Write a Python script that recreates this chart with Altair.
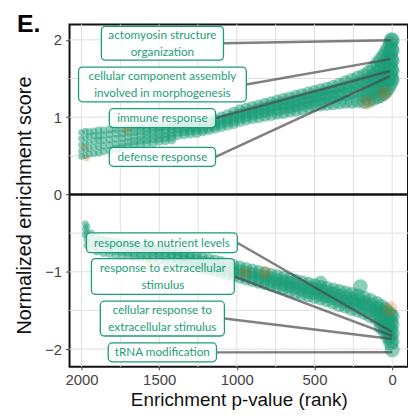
import altair as alt
import pandas as pd

# ---------------- data ----------------
# positive NES panel: rank -> NES values of the points stacked at that rank
top_band = {
    2000: [0.80, 0.72, 0.64, 0.56, 0.49],
    1975: [0.82, 0.74, 0.66, 0.58, 0.50],
    1950: [0.81, 0.75, 0.67, 0.59, 0.52],
    1920: [0.82, 0.76, 0.69, 0.61, 0.53],
    1890: [0.83, 0.76, 0.70, 0.62, 0.54],
    1860: [0.83, 0.77, 0.70, 0.63, 0.56],
    1820: [0.84, 0.78, 0.71, 0.64, 0.57],
    1780: [0.85, 0.79, 0.72, 0.65, 0.59],
    1740: [0.85, 0.79, 0.73, 0.66, 0.61],
    1700: [0.86, 0.80, 0.74, 0.68, 0.62],
    1660: [0.86, 0.81, 0.75, 0.69, 0.64],
    1620: [0.87, 0.82, 0.76, 0.70, 0.65],
    1580: [0.87, 0.82, 0.77, 0.71, 0.66],
    1540: [0.88, 0.83, 0.78, 0.72, 0.67],
    1500: [0.88, 0.84, 0.79, 0.73, 0.69],
    1460: [0.89, 0.84, 0.79, 0.74, 0.70],
    1420: [0.89, 0.85, 0.80, 0.75, 0.71],
    1380: [0.90, 0.86, 0.81, 0.77],
    1340: [0.90, 0.86, 0.82, 0.78],
    1300: [0.91, 0.87, 0.83, 0.79],
    1260: [0.92, 0.88, 0.84, 0.80],
    1220: [0.93, 0.89, 0.85, 0.82],
    1180: [0.95, 0.91, 0.87, 0.84],
    1140: [0.97, 0.93, 0.89, 0.86],
    1100: [1.00, 0.96, 0.92, 0.88],
    1060: [1.03, 0.98, 0.94, 0.90],
    1020: [1.06, 1.01, 0.96, 0.92],
    980: [1.09, 1.04, 0.99, 0.95],
    940: [1.11, 1.06, 1.01, 0.97],
    900: [1.13, 1.08, 1.03, 0.99],
    860: [1.15, 1.10, 1.05, 1.00],
    820: [1.17, 1.12, 1.07, 1.02],
    780: [1.19, 1.14, 1.09, 1.03],
    740: [1.21, 1.16, 1.10, 1.05],
    700: [1.23, 1.18, 1.12, 1.06],
    660: [1.25, 1.19, 1.13, 1.08],
    620: [1.27, 1.21, 1.15, 1.09],
    580: [1.29, 1.23, 1.17, 1.11],
    540: [1.31, 1.25, 1.19, 1.13],
    500: [1.33, 1.27, 1.21, 1.15],
    460: [1.35, 1.29, 1.23, 1.16],
    420: [1.37, 1.31, 1.25, 1.17],
    380: [1.39, 1.33, 1.26, 1.18],
    340: [1.42, 1.35, 1.28, 1.19],
    300: [1.45, 1.38, 1.30, 1.20],
    260: [1.48, 1.40, 1.32, 1.20],
    220: [1.51, 1.43, 1.34, 1.21],
    180: [1.54, 1.46, 1.37, 1.28, 1.20],
    150: [1.58, 1.49, 1.40, 1.31, 1.22],
    120: [1.63, 1.53, 1.43, 1.33, 1.24],
    95: [1.69, 1.58, 1.47, 1.36, 1.26],
    75: [1.74, 1.62, 1.50, 1.39, 1.28],
    55: [1.79, 1.67, 1.54, 1.42, 1.31],
    40: [1.84, 1.71, 1.58, 1.46, 1.34],
    25: [1.89, 1.76, 1.63, 1.50, 1.38],
    12: [1.95, 1.82, 1.69, 1.56, 1.43],
    5: [2.00, 1.88, 1.75, 1.62, 1.50],
    0: [1.99, 1.86, 1.73, 1.60, 1.48],
}

# negative NES panel
bottom_band = {
    1975: [-0.38, -0.45, -0.52],
    1965: [-0.42, -0.50, -0.58, -0.66],
    1940: [-0.50, -0.57, -0.64, -0.70],
    1900: [-0.55, -0.62, -0.68, -0.74],
    1860: [-0.58, -0.64, -0.70, -0.76],
    1820: [-0.60, -0.66, -0.72, -0.77],
    1780: [-0.61, -0.67, -0.73, -0.78],
    1740: [-0.63, -0.68, -0.74, -0.79],
    1700: [-0.64, -0.69, -0.75, -0.80],
    1660: [-0.65, -0.70, -0.76, -0.81],
    1620: [-0.66, -0.71, -0.77, -0.82],
    1580: [-0.67, -0.72, -0.78, -0.83],
    1540: [-0.68, -0.73, -0.78, -0.84],
    1500: [-0.69, -0.74, -0.79, -0.85],
    1460: [-0.70, -0.75, -0.80, -0.86],
    1420: [-0.72, -0.77, -0.82, -0.87],
    1380: [-0.73, -0.78, -0.83, -0.88],
    1340: [-0.75, -0.80, -0.85, -0.90],
    1300: [-0.77, -0.82, -0.87, -0.92],
    1260: [-0.79, -0.84, -0.89, -0.94],
    1220: [-0.81, -0.86, -0.91, -0.96],
    1180: [-0.83, -0.88, -0.93, -0.98],
    1140: [-0.85, -0.90, -0.95, -1.00],
    1100: [-0.87, -0.92, -0.97, -1.02],
    1060: [-0.89, -0.94, -0.99, -1.04],
    1020: [-0.91, -0.96, -1.01, -1.06],
    980: [-0.93, -0.98, -1.03, -1.08],
    940: [-0.95, -1.00, -1.05, -1.10],
    900: [-0.97, -1.02, -1.07, -1.12],
    860: [-0.99, -1.04, -1.09, -1.14],
    820: [-1.01, -1.06, -1.11, -1.16],
    780: [-1.03, -1.08, -1.13, -1.18],
    740: [-1.05, -1.10, -1.15, -1.20],
    700: [-1.07, -1.12, -1.17, -1.22],
    660: [-1.09, -1.14, -1.19, -1.25],
    620: [-1.11, -1.16, -1.21, -1.27],
    580: [-1.13, -1.18, -1.24, -1.29],
    540: [-1.15, -1.20, -1.26, -1.31],
    500: [-1.17, -1.22, -1.28, -1.33],
    460: [-1.19, -1.24, -1.30, -1.35, -1.14],
    420: [-1.21, -1.26, -1.32, -1.37],
    380: [-1.23, -1.28, -1.34, -1.40],
    340: [-1.25, -1.31, -1.37, -1.43],
    300: [-1.27, -1.33, -1.39, -1.45],
    260: [-1.29, -1.35, -1.41, -1.48],
    220: [-1.31, -1.37, -1.43, -1.50],
    204: [-1.19],
    180: [-1.34, -1.40, -1.46, -1.53],
    140: [-1.37, -1.43, -1.50, -1.57],
    100: [-1.41, -1.47, -1.54, -1.61],
    70: [-1.45, -1.51, -1.58, -1.65, -1.72],
    45: [-1.49, -1.56, -1.63, -1.70, -1.77],
    25: [-1.53, -1.61, -1.69, -1.77, -1.85],
    10: [-1.56, -1.65, -1.74, -1.83, -1.92],
    0: [-1.58, -1.68, -1.79, -1.90, -2.01],
}

# the few orange (second group) points
orange_rank = [1981, 1968, 1712, 160, 51, 1566, 946, 818, 13]
orange_nes = [0.61, 0.47, 0.83, 1.19, 1.31, -0.88, -1.01, -1.01, -1.48]

# labelled gene sets (one-line and two-line labels)
label_text = [
    "actomyosin structure\norganization",
    "cellular component assembly\ninvolved in morphogenesis",
    "immune response",
    "defense response",
    "response to nutrient levels",
    "response to extracellular\nstimulus",
    "cellular response to\nextracellular stimulus",
    "tRNA modification",
]
label_rank_left = [1872, 2019, 1821, 1821, 1968, 1936, 1879, 1828]
label_rank_right = [1086, 939, 1137, 1137, 997, 1016, 1080, 1131]
label_nes_top = [2.174, 1.648, 1.109, 0.608, -0.496, -0.830, -1.381, -1.921]
label_nes_bottom = [1.738, 1.199, 0.865, 0.364, -0.753, -1.292, -1.831, -2.165]
point_rank = [6, 13, 13, 13, 0, 0, 0, 0]
point_nes = [1.995, 1.751, 1.597, 1.532, -1.78, -1.83, -1.87, -2.04]

x_ticks = [2000, 1500, 1000, 500, 0]
x_grid = [2000, 1750, 1500, 1250, 1000, 750, 500, 250, 0]
y_ticks = [2, 1, 0, -1, -2]
y_grid = [2, 1.5, 1, 0.5, -0.5, -1, -1.5, -2]

# ---------------- tables ----------------
rows = []
for r, vals in top_band.items():
    for v in vals:
        rows.append({"rank": r, "nes": v})
for r, vals in bottom_band.items():
    for v in vals:
        rows.append({"rank": r, "nes": v})
pts = pd.DataFrame(rows)
orange = pd.DataFrame({"rank": orange_rank, "nes": orange_nes})
labels = pd.DataFrame({
    "text": label_text,
    "left": label_rank_left,
    "right": label_rank_right,
    "top": label_nes_top,
    "bottom": label_nes_bottom,
    "prank": point_rank,
    "pnes": point_nes,
})
labels["mid_rank"] = (labels["left"] + labels["right"]) / 2
labels["mid_nes"] = (labels["top"] + labels["bottom"]) / 2
labels["two"] = labels["text"].str.contains("\n")

GREEN = "#1b9e77"
ORANGE = "#d95f02"
FONT = "Liberation Sans"

xscale = alt.Scale(domain=[-102, 2077], reverse=True, nice=False, zero=False)
yscale = alt.Scale(domain=[-2.23, 2.2], nice=False, zero=False)
sizescale = alt.Scale(domain=[0, 2000], range=[230, 45])

X = lambda f: alt.X(f, type="quantitative", scale=xscale)
Y = lambda f: alt.Y(f, type="quantitative", scale=yscale)

gx = alt.Chart(pd.DataFrame({"g": x_grid})).mark_rule(color="#e0e0e0", strokeWidth=1).encode(
    x=alt.X("g:Q", scale=xscale, axis=alt.Axis(
        values=x_ticks, format="d", title="Enrichment p-value (rank)", grid=False, domain=False,
        labelFont=FONT, labelFontSize=15, labelColor="#444", tickColor="#444",
        tickSize=3, labelPadding=3, titleFont=FONT, titleFontSize=19,
        titleFontWeight="normal", titleColor="#111", titleY=33, titleBaseline="middle"))
)
gy = alt.Chart(pd.DataFrame({"g": y_grid})).mark_rule(color="#e0e0e0", strokeWidth=1).encode(
    y=alt.Y("g:Q", scale=yscale, axis=alt.Axis(
        values=y_ticks, format="d", title="Normalized enrichment score", grid=False, domain=False,
        labelFont=FONT, labelFontSize=15, labelColor="#444", tickColor="#444",
        tickSize=4, labelPadding=4, titleFont=FONT, titleFontSize=20,
        titleFontWeight="normal", titleColor="#111", titleX=-45, titleY=182,
        titleBaseline="middle", titleAlign="center"))
)

green_pts = alt.Chart(pts).mark_circle(color=GREEN, opacity=0.5).encode(
    x=X("rank"), y=Y("nes"),
    size=alt.Size("rank:Q", scale=sizescale, legend=None),
)
orange_pts = alt.Chart(orange).mark_circle(color=ORANGE, opacity=0.25).encode(
    x=X("rank"), y=Y("nes"),
    size=alt.Size("rank:Q", scale=sizescale, legend=None),
)

zero = alt.Chart(pd.DataFrame({"z": [0]})).mark_rule(color="#111", strokeWidth=2.5).encode(
    y=Y("z")
)

segs = alt.Chart(labels).mark_rule(color="#4a4a4a", opacity=0.7, strokeWidth=2.5).encode(
    x=X("right"), y=Y("mid_nes"), x2="prank", y2="pnes"
)
boxes = alt.Chart(labels).mark_rect(
    fill="white", fillOpacity=0.8, stroke=GREEN, strokeWidth=1.3, cornerRadius=4
).encode(x=X("left"), x2="right", y=Y("top"), y2="bottom")

text_style = dict(font="Lato", fontSize=11.8, color=GREEN, lineBreak="\n",
                  lineHeight=17, align="center", baseline="middle")
texts1 = alt.Chart(labels).transform_filter("!datum.two").mark_text(**text_style).encode(
    x=X("mid_rank"), y=Y("mid_nes"), text="text:N")
texts2 = alt.Chart(labels).transform_filter("datum.two").mark_text(dy=-8.5, **text_style).encode(
    x=X("mid_rank"), y=Y("mid_nes"), text="text:N")

tag = alt.Chart(pd.DataFrame({"t": ["E."]})).mark_text(
    font=FONT, fontSize=25, fontWeight="bold", color="#000", align="left",
    baseline="alphabetic"
).encode(x=alt.value(-53), y=alt.value(8), text="t:N")

chart = alt.layer(
    gx, gy, green_pts, orange_pts, zero, segs, boxes, texts1, texts2, tag
).properties(
    width=341, height=345,
    autosize=alt.AutoSizeParams(type="none"),
    padding={"left": 62, "top": 15, "right": 0, "bottom": 45},
).configure_view(
    stroke="#111", strokeWidth=2
)

chart.save("out.html", embed_options={"renderer": "svg", "actions": False})
